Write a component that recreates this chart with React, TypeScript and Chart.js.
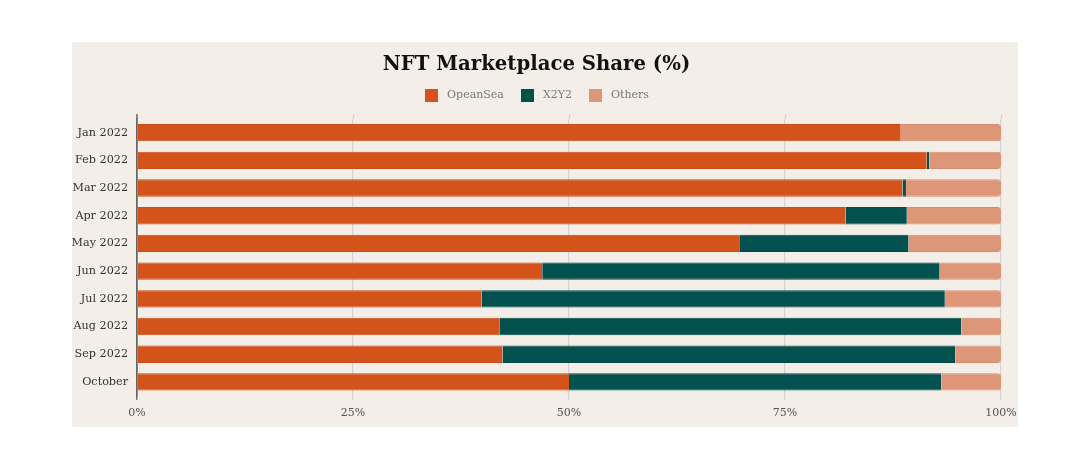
import React, { useEffect, useRef } from "react";
import { Chart, registerables } from "chart.js";

Chart.register(...registerables);

const categories = [
  "Jan 2022", "Feb 2022", "Mar 2022", "Apr 2022", "May 2022",
  "Jun 2022", "Jul 2022", "Aug 2022", "Sep 2022", "October",
];
const openSea = [88.4, 91.4, 88.6, 82.0, 69.7, 46.9, 39.9, 42.0, 42.3, 50.0];
const x2y2 = [0.0, 0.3, 0.4, 7.1, 19.6, 46.0, 53.6, 53.4, 52.4, 43.1];
const others = [11.6, 8.3, 11.0, 10.9, 10.7, 7.1, 6.5, 4.6, 5.3, 6.9];
const xTicks = [0, 25, 50, 75, 100];

const FONT = "'DejaVu Serif', 'Liberation Serif', serif";
const BG = "#F3EEE8";
const GRID = "#d3d3d3";
const AXIS = "#666";
const EDGE = { top: 1, bottom: 1, left: 0, right: 0 };

export default function App() {
  const ref = useRef<HTMLCanvasElement>(null);
  useEffect(() => {
    if (!ref.current) return;
    const chart = new Chart(ref.current, {
      type: "bar",
      data: {
        labels: categories,
        datasets: [
          {
            label: "OpeanSea", data: openSea, backgroundColor: "#D4531A",
            borderColor: "#C84D17", borderWidth: EDGE, borderSkipped: false,
          },
          {
            label: "X2Y2", data: x2y2, backgroundColor: "#02514F",
            borderColor: "#024846", borderWidth: EDGE, borderSkipped: false,
          },
          {
            label: "Others", data: others, backgroundColor: "#DE9679",
            borderColor: "#D78C6F", borderWidth: EDGE,
            borderSkipped: false,
            borderRadius: { topLeft: 0, bottomLeft: 0, topRight: 3, bottomRight: 3 },
          },
        ],
      },
      options: {
        indexAxis: "y",
        responsive: false,
        animation: false,
        layout: { padding: { left: 0, right: 17, top: 9, bottom: 0 } },
        datasets: { bar: { barPercentage: 0.626, categoryPercentage: 1 } },
        plugins: {
          title: {
            display: true,
            text: "NFT Marketplace Share (%)",
            color: "#111",
            font: { family: FONT, size: 19.7, weight: "bold" },
            padding: { top: 2.2, bottom: 41.9 },
          },
          legend: { display: false },
          tooltip: { enabled: false },
        },
        scales: {
          x: {
            stacked: true,
            min: 0,
            max: 100,
            afterBuildTicks: (s: any) => { s.ticks = xTicks.map((v) => ({ value: v })); },
            afterFit: (s: any) => { s.paddingRight = 17; s.paddingLeft = 0; },
            ticks: {
              color: "#555",
              font: { family: FONT, size: 11 },
              callback: (v: any) => v + "%",
              padding: 7,
            },
            grid: {
              color: (c: any) => (c.index === 0 ? AXIS : GRID),
              lineWidth: (c: any) => (c.index === 0 ? 1.5 : 1.2),
              tickLength: 4,
            },
            border: { display: false },
          },
          y: {
            stacked: true,
            afterFit: (s: any) => { s.width = 65; },
            ticks: {
              color: "#333",
              font: { family: FONT, size: 11.2 },
              padding: 9,
            },
            grid: { display: false, drawTicks: false },
            border: { display: true, color: AXIS, width: 1.5 },
          },
        },
      },
      plugins: [
        {
          id: "bg",
          beforeDraw: (c: any) => {
            const ctx = c.ctx;
            ctx.save();
            ctx.fillStyle = BG;
            ctx.fillRect(0, 0, c.width, c.height);
            ctx.restore();
          },
          beforeDatasetsDraw: (c: any) => {
            const ctx = c.ctx;
            const xs = c.scales.x;
            const top = c.chartArea.top;
            ctx.save();
            xTicks.forEach((v, i) => {
              const px = Math.round(xs.getPixelForValue(v)) + (i === 0 ? 0 : 0.5);
              ctx.strokeStyle = i === 0 ? AXIS : GRID;
              ctx.lineWidth = i === 0 ? 1.5 : 1.2;
              ctx.beginPath();
              ctx.moveTo(px, top - 4.7);
              ctx.lineTo(px, top);
              ctx.stroke();
            });
            ctx.restore();
          },
          afterDraw: (c: any) => {
            // legend
            const ctx = c.ctx;
            const ds = c.data.datasets;
            ctx.save();
            ctx.font = `11px ${FONT}`;
            const box = 13, gapText = 9, gapItem = 17;
            const widths = ds.map((d: any) => box + gapText + ctx.measureText(d.label).width);
            const total = widths.reduce((a: number, b: number) => a + b, 0) + gapItem * (ds.length - 1);
            let x = 465 - total / 2;
            const cy = 53;
            ds.forEach((d: any, i: number) => {
              ctx.fillStyle = d.backgroundColor;
              ctx.fillRect(Math.round(x), Math.round(cy - box / 2), box, box);
              ctx.fillStyle = "#7a7a7a";
              ctx.textBaseline = "middle";
              ctx.textAlign = "left";
              ctx.fillText(d.label, x + box + gapText, cy);
              x += widths[i] + gapItem;
            });
            ctx.restore();
          },
        },
      ],
    } as any);
    return () => chart.destroy();
  }, []);
  return (
    <div style={{ position: "absolute", left: 0, top: 0, width: 1090, height: 469, background: "#fff" }}>
      <canvas
        ref={ref}
        width={946}
        height={385}
        style={{ position: "absolute", left: 72, top: 42, width: 946, height: 385 }}
      />
    </div>
  );
}
